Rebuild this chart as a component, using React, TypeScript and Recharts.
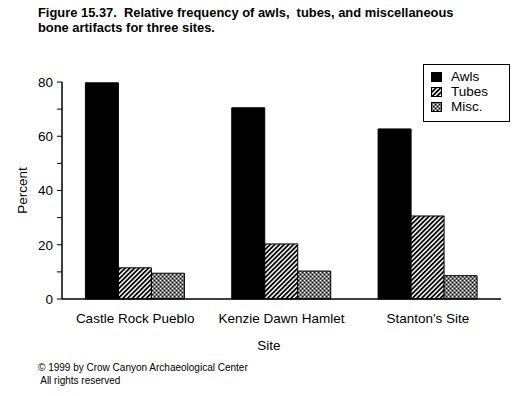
import React from 'react';
import { BarChart, Bar, XAxis, YAxis, Legend } from 'recharts';

const sites = ['Castle Rock Pueblo', 'Kenzie Dawn Hamlet', "Stanton's Site"];
const awls = [79.7, 70.5, 62.7];
const tubes = [11.5, 20.3, 30.6];
const misc = [9.5, 10.3, 8.6];
const yTicks = [0, 10, 20, 30, 40, 50, 60, 70, 80];
const boundaryTicks = [0, 1, 2, 3];

const data = sites.map((site, i) => ({ site, Awls: awls[i], Tubes: tubes[i], Misc: misc[i] }));

const FONT = '"Liberation Sans", Arial, sans-serif';

const fills: Record<string, string> = {
  Awls: '#000',
  Tubes: 'url(#tubesPat)',
  Misc: 'url(#miscPat)',
};
const labels: Record<string, string> = { Awls: 'Awls', Tubes: 'Tubes', Misc: 'Misc.' };

const LegendBox = () => (
  <div
    style={{
      border: '1.5px solid #000',
      width: 87,
      height: 58,
      boxSizing: 'border-box',
      background: '#fff',
      fontFamily: FONT,
      fontSize: 13.5,
      paddingTop: 4,
    }}
  >
    {['Awls', 'Tubes', 'Misc'].map((k) => (
      <div key={k} style={{ display: 'flex', alignItems: 'center', height: 15, paddingLeft: 7 }}>
        <svg width={11} height={10} style={{ marginRight: 9 }}>
          <rect x={0.5} y={0.5} width={10} height={9} fill={fills[k]} stroke="#000" strokeWidth={1} />
        </svg>
        <span style={{ color: '#000', lineHeight: '15px' }}>{labels[k]}</span>
      </div>
    ))}
  </div>
);

export default function App() {
  return (
    <div style={{ position: 'absolute', left: 0, top: 0, width: 523, height: 396, background: '#fff' }}>
      <div
        style={{
          position: 'absolute',
          left: 38,
          top: 6,
          fontFamily: FONT,
          fontWeight: 'bold',
          fontSize: 12.9,
          lineHeight: '14.5px',
          color: '#000',
          whiteSpace: 'pre',
        }}
      >
        {'Figure 15.37.  Relative frequency of awls,  tubes, and miscellaneous\nbone artifacts for three sites.'}
      </div>
      <BarChart
        width={523}
        height={396}
        data={data}
        margin={{ top: 82, right: 22, bottom: 66, left: 0 }}
        barCategoryGap="16%"
        barGap={0}
        style={{ position: 'absolute', left: 0, top: 0 }}
      >
        <defs>
          <pattern id="tubesPat" width="3.3" height="3.3" patternUnits="userSpaceOnUse" patternTransform="rotate(45)">
            <rect x="0" y="0" width="3.3" height="3.3" fill="#fff" />
            <rect x="0" y="0" width="1.8" height="3.3" fill="#000" />
          </pattern>
          <pattern id="miscPat" width="4" height="4" patternUnits="userSpaceOnUse">
            <rect x="0" y="0" width="4" height="4" fill="#6e6e6e" />
            <rect x="0" y="0" width="1.2" height="1.2" fill="#fff" />
            <rect x="2" y="2" width="1.2" height="1.2" fill="#fff" />
            <rect x="2" y="0" width="1" height="1" fill="#111" />
            <rect x="0" y="2" width="1" height="1" fill="#111" />
          </pattern>
        </defs>
        <XAxis
          xAxisId="bounds"
          type="number"
          domain={[0, 3]}
          ticks={boundaryTicks}
          tick={false}
          tickSize={4}
          height={1}
          stroke="#000"
          axisLine={{ stroke: '#000', strokeWidth: 1.5 }}
          tickLine={{ stroke: '#000' }}
          allowDataOverflow
        />
        <XAxis
          xAxisId="cat"
          dataKey="site"
          axisLine={false}
          tickLine={false}
          tickSize={0}
          tickMargin={13}
          height={30}
          interval={0}
          tick={{ fill: '#000', fontSize: 13.5, fontFamily: FONT }}
        />
        <YAxis
          width={62}
          domain={[0, 80]}
          ticks={yTicks}
          interval={0}
          tickSize={5}
          tickMargin={4}
          tickFormatter={(v: number) => (v % 20 === 0 ? String(v) : '')}
          axisLine={{ stroke: '#000', strokeWidth: 1.5 }}
          tickLine={{ stroke: '#000' }}
          tick={{ fill: '#000', fontSize: 13.5, fontFamily: FONT }}
          label={{
            value: 'Percent',
            angle: -90,
            position: 'insideLeft',
            offset: 22,
            style: { fill: '#000', fontSize: 13.5, fontFamily: FONT, textAnchor: 'middle' },
          }}
        />
        <Legend
          layout="vertical"
          align="center"
          verticalAlign="middle"
          content={() => <LegendBox />}
          wrapperStyle={{ top: 64, left: 423, width: 88, height: 58 }}
        />
        <Bar xAxisId="cat" dataKey="Awls" fill={fills.Awls} stroke="#000" strokeWidth={1} isAnimationActive={false} />
        <Bar xAxisId="cat" dataKey="Tubes" fill={fills.Tubes} stroke="#000" strokeWidth={1} isAnimationActive={false} />
        <Bar xAxisId="cat" dataKey="Misc" fill={fills.Misc} stroke="#000" strokeWidth={1} isAnimationActive={false} />
      </BarChart>
      <div
        style={{
          position: 'absolute',
          left: 0,
          width: 538,
          top: 338,
          textAlign: 'center',
          fontFamily: FONT,
          fontSize: 13.5,
          color: '#000',
        }}
      >
        Site
      </div>
      <div
        style={{
          position: 'absolute',
          left: 38,
          top: 361,
          fontFamily: FONT,
          fontSize: 10,
          lineHeight: '13px',
          color: '#000',
          whiteSpace: 'pre',
        }}
      >
        {'\u00A9 1999 by Crow Canyon Archaeological Center\n All rights reserved'}
      </div>
    </div>
  );
}
